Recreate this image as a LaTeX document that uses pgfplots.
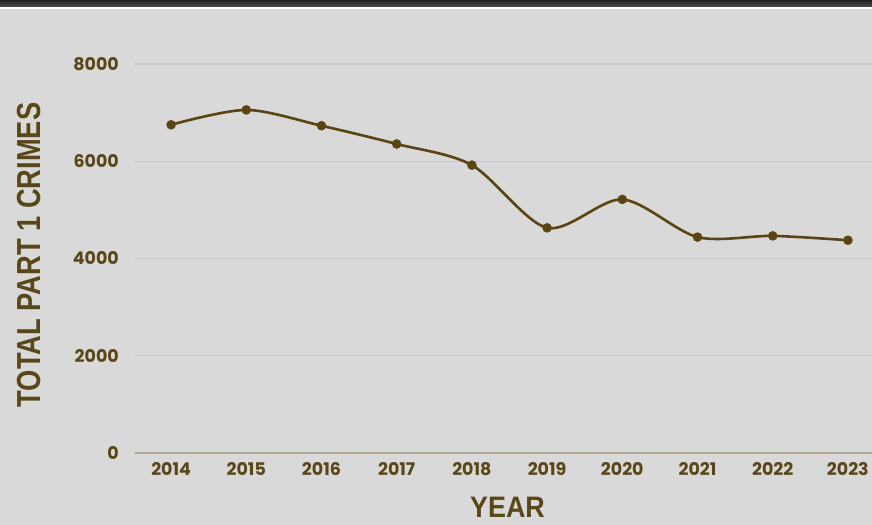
\documentclass[border=0pt]{standalone}
\usepackage{pgfplots}
\pgfplotsset{compat=1.18}
\usepackage{fontspec}
\setmainfont{Poppins}
\newfontfamily\labfont{Liberation Sans}
\definecolor{bg}{HTML}{D9D9D9}
\definecolor{txt}{HTML}{5A4719}
\definecolor{ln}{HTML}{5A4512}
\definecolor{grd}{HTML}{C8C8C8}
\definecolor{axl}{HTML}{ADA792}
\begin{document}
\begin{tikzpicture}[x=1bp,y=1bp]
\useasboundingbox (0,0) rectangle (872,525);
\fill[bg] (0,0) rectangle (872,525);
\shade[top color=black!88, bottom color=black!70] (0,518) rectangle (872,525);
\fill[white] (0,516) rectangle (872,518);
\begin{axis}[
  at={(135bp,72bp)}, anchor=south west,
  width=737bp, height=389bp, scale only axis,
  xmin=2013.52, xmax=2023.32, ymin=0, ymax=8000,
  axis line style={draw=none},
  clip=false,
  xtick={2014,...,2023}, ytick={0,2000,4000,6000,8000},
  ymajorgrids, grid style={grd, line width=1.3bp},
  major tick length=0pt,
  tick style={draw=none},
  ticklabel style={font=\fontsize{17.5}{18}\selectfont\bfseries, text=txt},
  /pgf/number format/assume math mode=true,
  /pgf/number format/1000 sep={},
  yticklabel style={anchor=east, inner sep=0pt, xshift=-16bp},
  xticklabel style={anchor=center, inner sep=0pt, yshift=-16bp},
]
\draw[axl, line width=1.6bp] (axis cs:2013.52,0) -- (axis cs:2023.32,0);
\addplot[ln, line width=2.6bp, smooth, tension=0.5, mark=*, mark size=4.5bp, mark options={fill=ln, draw=ln, line width=0.5bp}]
  coordinates {
  (2014,6750) (2015,7055) (2016,6730) (2017,6355) (2018,5920)
  (2019,4630) (2020,5215) (2021,4440) (2022,4465) (2023,4375)
};
\end{axis}
\node[rotate=90, text=txt, inner sep=0pt] at (29.5,270)
  {\scalebox{1}[1.22]{\labfont\bfseries\fontsize{27.4}{28}\selectfont TOTAL PART 1 CRIMES}};
\node[text=txt, inner sep=0pt, anchor=base] at (507.5,7)
  {\scalebox{1}[1.1]{\labfont\bfseries\fontsize{27}{28}\selectfont YEAR}};
\end{tikzpicture}
\end{document}
